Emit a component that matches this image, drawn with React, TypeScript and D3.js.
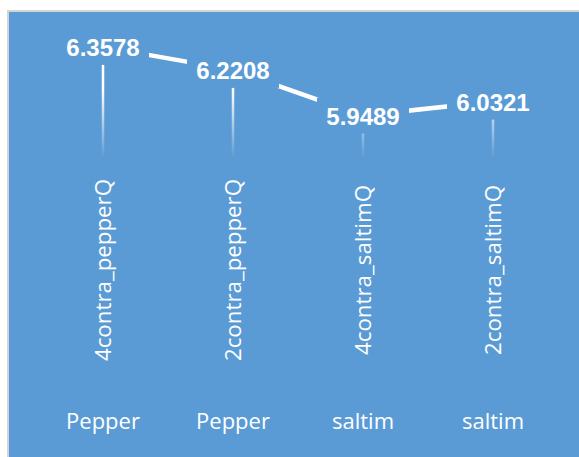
import React, { useEffect, useRef } from 'react';
import * as d3 from 'd3';

const categories = ['4contra_pepperQ', '2contra_pepperQ', '4contra_saltimQ', '2contra_saltimQ'];
const groups = ['Pepper', 'Pepper', 'saltim', 'saltim'];
const values = [6.3578, 6.2208, 5.9489, 6.0321];

const App = () => {
    const svgRef = useRef<SVGSVGElement | null>(null);

    useEffect(() => {
        const svg = d3.select(svgRef.current);
        svg.selectAll('*').remove();

        const data = categories.map((c, i) => ({ cat: c, group: groups[i], value: values[i] }));

        // chart frame
        svg.append('rect').attr('x', 7).attr('y', 10).attr('width', 600).attr('height', 500).attr('fill', '#d4d4d4');
        svg.append('rect').attr('x', 9).attr('y', 12).attr('width', 600).attr('height', 500).attr('fill', '#5b9bd5');

        const x = d3.scaleBand().domain(categories).range([38, 558]).padding(0);
        const cx = (c: string) => (x(c) as number) + x.bandwidth() / 2;
        const y = d3.scaleLinear().domain([5.5, 6.5]).range([191, 23]);

        const defs = svg.append('defs');
        const grad = defs.append('linearGradient')
            .attr('id', 'dropGrad')
            .attr('gradientUnits', 'userSpaceOnUse')
            .attr('x1', 0).attr('x2', 0)
            .attr('y1', 90).attr('y2', 158);
        grad.append('stop').attr('offset', 0).attr('stop-color', '#fff').attr('stop-opacity', 1);
        grad.append('stop').attr('offset', 1).attr('stop-color', '#fff').attr('stop-opacity', 0);

        // drop lines
        svg.selectAll('.drop')
            .data(data)
            .join('rect')
            .attr('class', 'drop')
            .attr('x', d => cx(d.cat) - 1.25)
            .attr('width', 2.5)
            .attr('y', d => y(d.value))
            .attr('height', d => 160 - y(d.value))
            .attr('fill', 'url(#dropGrad)');

        const line = d3.line<any>()
            .x(d => cx(d.cat))
            .y(d => y(d.value));

        svg.append('path')
            .datum(data)
            .attr('fill', 'none')
            .attr('stroke', '#fff')
            .attr('stroke-width', 4.5)
            .attr('d', line);

        // value labels
        const lab = svg.selectAll('.lab')
            .data(data)
            .join('g')
            .attr('class', 'lab')
            .attr('transform', d => `translate(${cx(d.cat)},${y(d.value)})`);

        lab.append('rect')
            .attr('x', -46).attr('y', -18)
            .attr('width', 92).attr('height', 36)
            .attr('fill', '#5b9bd5');

        lab.append('text')
            .attr('text-anchor', 'middle')
            .attr('y', 9)
            .style('font-family', '"Liberation Sans", Arial, sans-serif')
            .style('font-weight', 'bold')
            .style('font-size', '24px')
            .style('fill', '#fff')
            .text(d => d.value.toFixed(4));

        // category labels (rotated)
        svg.selectAll('.cat')
            .data(data)
            .join('text')
            .attr('class', 'cat')
            .attr('transform', d => `translate(${cx(d.cat)},270) rotate(-90)`)
            .attr('text-anchor', 'middle')
            .attr('dy', '0.357em')
            .style('font-family', '"Open Sans", sans-serif')
            .style('font-size', '22.3px')
            .style('fill', '#fff')
            .text(d => d.cat);

        // group labels
        svg.selectAll('.grp')
            .data(data)
            .join('text')
            .attr('class', 'grp')
            .attr('x', d => cx(d.cat))
            .attr('y', 429)
            .attr('text-anchor', 'middle')
            .style('font-family', '"Open Sans", sans-serif')
            .style('font-size', '22px')
            .style('fill', '#fff')
            .text(d => d.group);
    }, []);

    return (
        <svg ref={svgRef} width={579} height={457}
            style={{ position: 'absolute', left: 0, top: 0, background: '#fff' }} />
    );
};

export default App;
